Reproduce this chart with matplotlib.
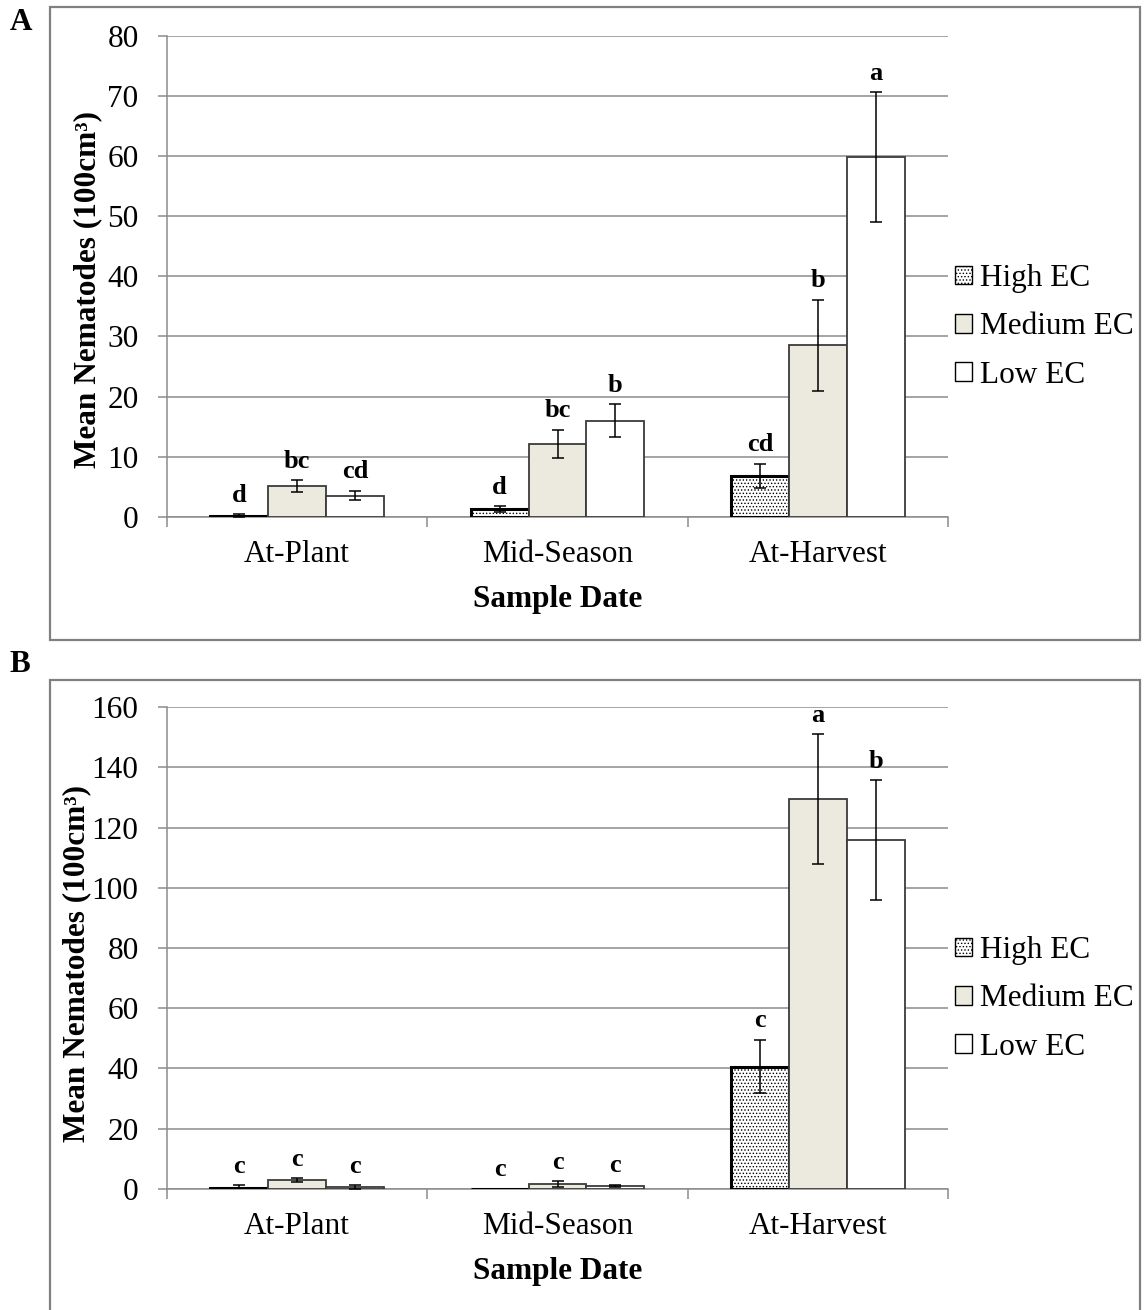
import matplotlib
matplotlib.use("Agg")
import matplotlib.pyplot as plt
from matplotlib.patches import Rectangle, Patch
import numpy as np

plt.rcParams['font.family'] = ['Liberation Serif', 'DejaVu Serif']
plt.rcParams['hatch.linewidth'] = 0.6

categories = ["At-Plant", "Mid-Season", "At-Harvest"]
series = ["High EC", "Medium EC", "Low EC"]

# Panel A
a_high = [0.1, 1.2, 6.8]
a_high_err = [0.3, 0.5, 2.0]
a_med = [5.1, 12.1, 28.5]
a_med_err = [1.0, 2.4, 7.6]
a_low = [3.5, 16.0, 59.8]
a_low_err = [0.8, 2.7, 10.8]
a_letters_high = ["d", "d", "cd"]
a_letters_med = ["bc", "bc", "b"]
a_letters_low = ["cd", "b", "a"]

# Panel B
b_high = [0.2, 0.0, 40.6]
b_high_err = [1.0, 0.0, 8.9]
b_med = [2.8, 1.4, 129.5]
b_med_err = [0.7, 1.0, 21.5]
b_low = [0.6, 0.9, 115.9]
b_low_err = [0.6, 0.4, 19.8]
b_letters_high = ["c", "c", "c"]
b_letters_med = ["c", "c", "a"]
b_letters_low = ["c", "c", "b"]

a_yticks = [0, 10, 20, 30, 40, 50, 60, 70, 80]
b_yticks = [0, 20, 40, 60, 80, 100, 120, 140, 160]

FS = 22.5
GRID = "#8c8c8c"
MED_COLOR = "#ECEADF"

fig = plt.figure(figsize=(11.44, 13.1), dpi=100)

# panel borders
fig.patches.append(Rectangle((50/1144, (1310-640)/1310), 1090/1144, 633/1310,
                             transform=fig.transFigure, fill=False,
                             edgecolor="#808080", linewidth=1.6))
fig.patches.append(Rectangle((50/1144, -0.02), 1090/1144, (1310-680)/1310 + 0.02,
                             transform=fig.transFigure, fill=False,
                             edgecolor="#808080", linewidth=1.6))

def panel(rect, high, high_err, med, med_err, low, low_err, lh, lm, ll,
          yticks, leg_y, ylab_x, ylab_y, letter, letter_y):
    ax = fig.add_axes(rect)
    x = np.arange(len(categories))
    w = 0.222
    styles = [
        dict(vals=high, err=high_err, lab=lh, fc="white", ec="black", lw=2.2, hatch="....."),
        dict(vals=med, err=med_err, lab=lm, fc=MED_COLOR, ec="#3a3a3a", lw=1.3, hatch=None),
        dict(vals=low, err=low_err, lab=ll, fc="white", ec="#3a3a3a", lw=1.3, hatch=None),
    ]
    handles = []
    for i, s in enumerate(styles):
        xs = x + (i - 1) * w
        ax.bar(xs, s["vals"], width=w, color=s["fc"], edgecolor=s["ec"],
               linewidth=s["lw"], hatch=s["hatch"], zorder=3)
        errs = np.array(s["err"])
        mask = errs > 0
        ax.errorbar(xs[mask], np.array(s["vals"])[mask], yerr=errs[mask], fmt="none",
                    ecolor="black", elinewidth=1.1, capsize=4.3, capthick=1.1, zorder=4)
        for xi, v, e, t in zip(xs, s["vals"], s["err"], s["lab"]):
            ax.annotate(t, (xi, v + e), xytext=(0, 9), textcoords="offset points",
                        ha="center", va="baseline", fontsize=19, fontweight="bold",
                        annotation_clip=False, zorder=5)
        handles.append(Patch(facecolor=s["fc"], edgecolor="black", linewidth=1.0,
                             hatch=s["hatch"], label=series[i]))
    ax.set_xlim(-0.5, 2.5)
    ax.set_ylim(yticks[0], yticks[-1])
    ax.set_yticks(yticks)
    ax.yaxis.grid(True, color=GRID, linewidth=1.1, zorder=0)
    ax.set_axisbelow(True)
    for sp in ["top", "right"]:
        ax.spines[sp].set_visible(False)
    ax.spines["left"].set_color(GRID)
    ax.spines["bottom"].set_color(GRID)
    ax.spines["left"].set_linewidth(1.1)
    ax.spines["bottom"].set_linewidth(1.1)
    ax.set_xticks(x)
    ax.set_xticklabels(categories)
    ax.set_xticks(np.arange(-0.5, 3.0, 1.0), minor=True)
    ax.tick_params(axis="x", which="major", length=0, pad=17, labelsize=FS)
    ax.tick_params(axis="x", which="minor", length=7.5, width=1.1, color=GRID, direction="out")
    ax.tick_params(axis="y", length=6.5, width=1.1, color=GRID, direction="out", pad=14, labelsize=FS)
    ax.set_xlabel("Sample Date", fontsize=FS, fontweight="bold", labelpad=11)
    fig.text(ylab_x, ylab_y, "Mean Nematodes (100cm³)", rotation=90, ha="center",
             va="center", fontsize=FS, fontweight="bold")
    fig.legend(handles=handles, loc="center left", bbox_to_anchor=(955/1144, leg_y),
               frameon=False, fontsize=FS, handlelength=0.55, handleheight=0.55,
               handletextpad=0.25, labelspacing=0.62, borderpad=0, borderaxespad=0)
    fig.text(10/1144, letter_y, letter, fontsize=FS, fontweight="bold", va="center")
    return ax

L = 167/1144
W = 781/1144
panel([L, (1310-516.7)/1310, W, 480.7/1310], a_high, a_high_err, a_med, a_med_err,
      a_low, a_low_err, a_letters_high, a_letters_med, a_letters_low, a_yticks,
      (1310-327)/1310, 88/1144, (1310-290)/1310, "A", (1310-22)/1310)
panel([L, (1310-1188.7)/1310, W, 481.4/1310], b_high, b_high_err, b_med, b_med_err,
      b_low, b_low_err, b_letters_high, b_letters_med, b_letters_low, b_yticks,
      (1310-999)/1310, 77/1144, (1310-963)/1310, "B", (1310-665)/1310)

fig.savefig("out.png", dpi=100)
